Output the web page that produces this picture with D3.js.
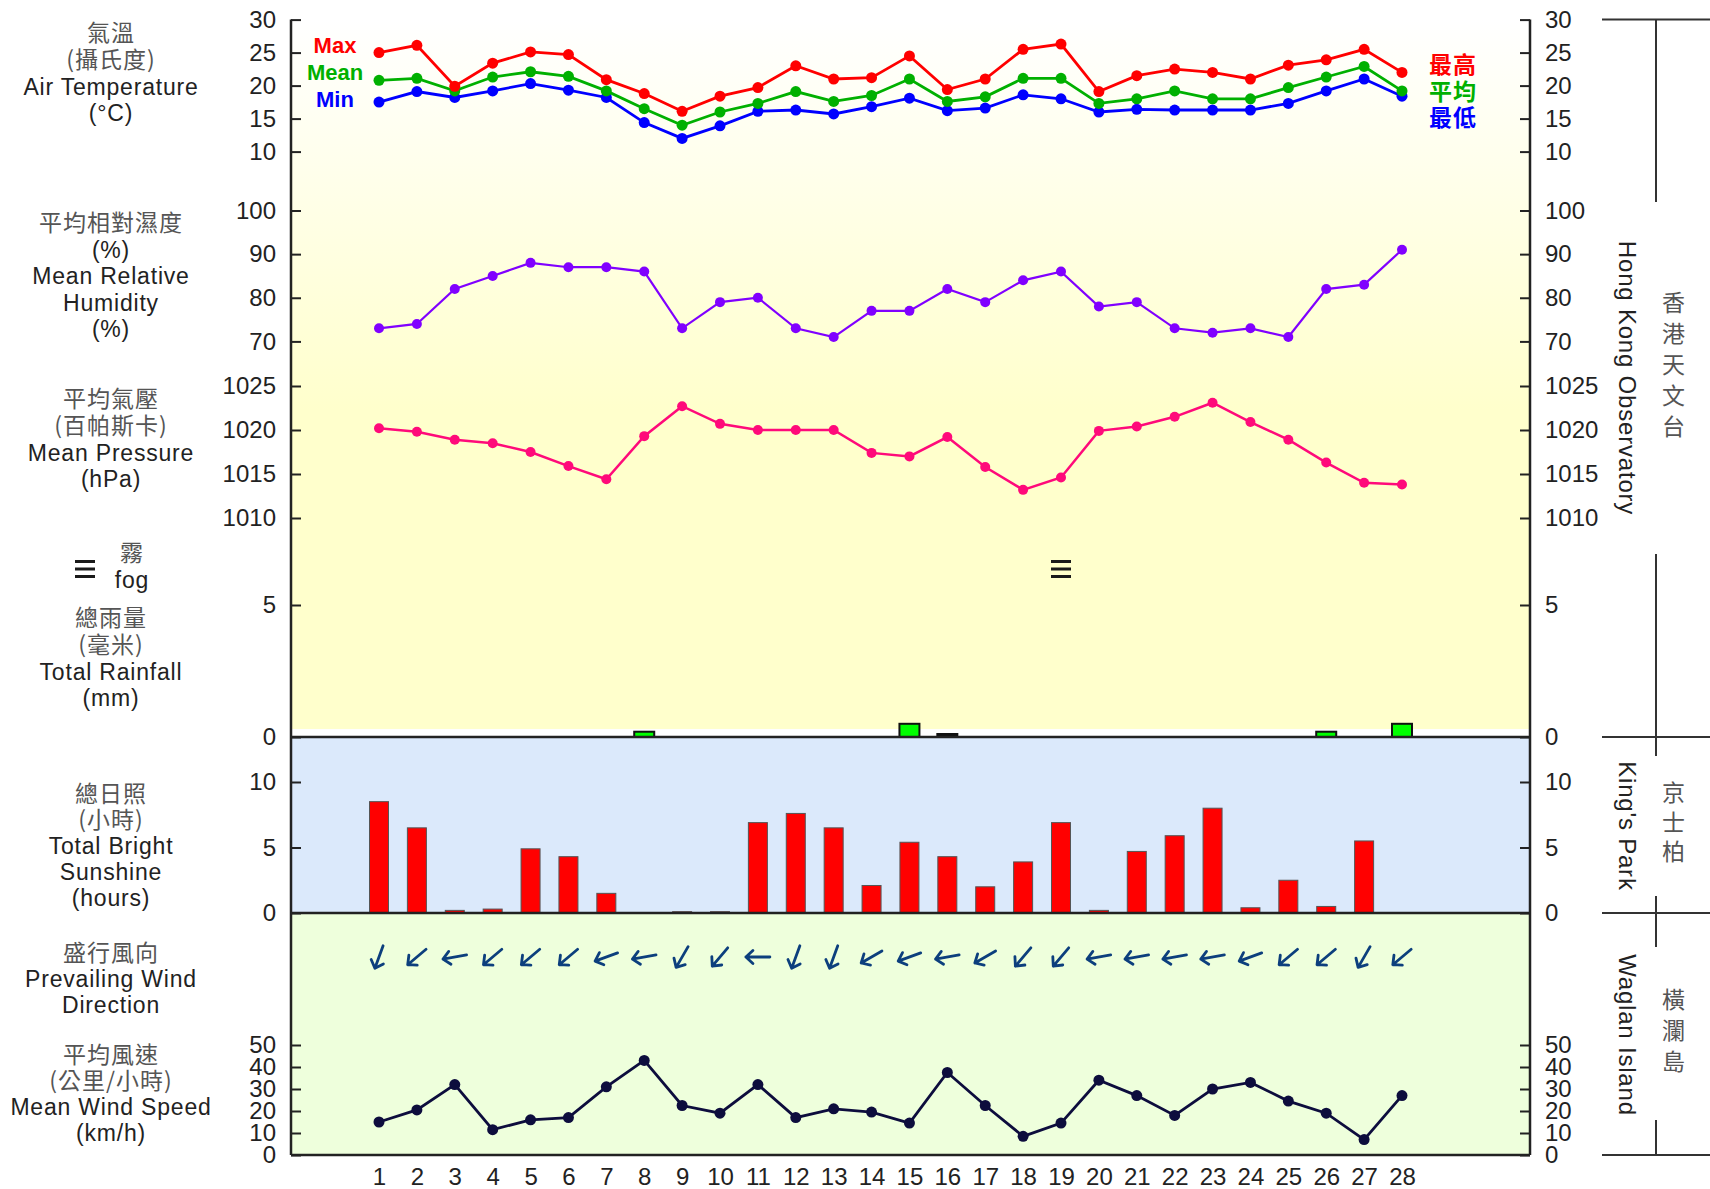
<!DOCTYPE html>
<html>
<head>
<meta charset="utf-8">
<script src="https://cdn.jsdelivr.net/npm/d3@7"></script>
<style>
  body { margin: 0; background: #fff; }
  text { font-family: "Liberation Sans", Arial, sans-serif; font-size: 24px; fill: #222; }
  .lbl { font-size: 23px; letter-spacing: 0.8px; }
  .stn { letter-spacing: 0.8px; }
  .cjk { font-family: "Noto Sans CJK TC", sans-serif; fill: #555; font-size: 23px; letter-spacing: 1px; }
</style>
</head>
<body>
<div id="chart"></div>
<script>
// Data (day of month, one value per day)
var days = [1,2,3,4,5,6,7,8,9,10,11,12,13,14,15,16,17,18,19,20,21,22,23,24,25,26,27,28];
var maxTemp  = [25.0,26.1,19.9,23.4,25.1,24.7,20.9,18.8,16.1,18.4,19.7,23.0,21.0,21.2,24.5,19.4,21.0,25.5,26.3,19.1,21.5,22.5,22.0,21.0,23.1,23.9,25.5,22.0];
var meanTemp = [20.8,21.1,19.2,21.3,22.1,21.4,19.2,16.5,14.0,16.0,17.3,19.1,17.6,18.5,21.0,17.6,18.3,21.1,21.1,17.3,18.0,19.2,18.0,18.0,19.7,21.3,22.9,19.2];
var minTemp  = [17.5,19.1,18.2,19.2,20.3,19.3,18.2,14.4,12.0,13.9,16.1,16.3,15.7,16.8,18.1,16.2,16.6,18.6,18.0,16.0,16.4,16.3,16.3,16.3,17.3,19.2,21.0,18.4];
var humidity = [73,74,82,85,88,87,87,86,73,79,80,73,71,77,77,82,79,84,86,78,79,73,72,73,71,82,83,91];
var pressure = [1020.2,1019.8,1018.9,1018.5,1017.5,1015.9,1014.4,1019.3,1022.7,1020.7,1020.0,1020.0,1020.0,1017.4,1017.0,1019.2,1015.8,1013.2,1014.6,1019.9,1020.4,1021.5,1023.1,1020.9,1018.9,1016.3,1014.0,1013.8];
var rainfall = [0,0,0,0,0,0,0,0.2,0,0,0,0,0,0,0.5,0,0,0,0,0,0,0,0,0,0,0.2,0,0.5];
var rainTraceDays = [16];
var fogDays = [19];
var sunshine = [8.5,6.5,0.2,0.3,4.9,4.3,1.5,0,0.1,0.1,6.9,7.6,6.5,2.1,5.4,4.3,2.0,3.9,6.9,0.2,4.7,5.9,8.0,0.4,2.5,0.5,5.5,0];
var windDir = [20,50,80,50,50,50,70,80,30,40,90,20,20,60,70,80,60,40,40,80,80,80,80,70,50,50,30,50];   // degrees, wind from
var windSpeed = [15,20.5,32,11.5,16,17,31,43,22.5,19,32,17,21,19.5,14.5,37.5,22.5,8.5,14.5,34,27,18,30,33,24.5,19,7,27];

var tempTicks = [10,15,20,25,30];
var rhTicks = [70,80,90,100];
var presTicks = [1010,1015,1020,1025];
var rainTicks = [0,5];
var sunTicks = [0,5,10];
var windTicks = [0,10,20,30,40,50];

// Base chart space
var width = 1710, height = 1189;
var axisL = 291, axisR = 1530, plotTop = 19.6, plotBottom = 1155;

var svg = d3.select('#chart').append('svg')
    .attr('width', width)
    .attr('height', height);

// Scales
var x = d3.scaleLinear().domain([1, 28]).range([379, 1402]);
var tempY = d3.scaleLinear().domain([10, 30]).range([151.6, 19.6]);
var rhY = d3.scaleLinear().domain([70, 100]).range([341.4, 210.5]);
var presY = d3.scaleLinear().domain([1010, 1025]).range([518, 386]);
var rainY = d3.scaleLinear().domain([0, 5]).range([737, 605]);
var sunY = d3.scaleLinear().domain([0, 10]).range([913, 782]);
var windY = d3.scaleLinear().domain([0, 50]).range([1155, 1045]);

// Panel backgrounds
var grad = svg.append('defs').append('linearGradient')
    .attr('id', 'sky').attr('x1', 0).attr('y1', 0).attr('x2', 0).attr('y2', 1);
grad.append('stop').attr('offset', 0).attr('stop-color', '#ffffff');
grad.append('stop').attr('offset', 0.55).attr('stop-color', '#ffffcc');
grad.append('stop').attr('offset', 1).attr('stop-color', '#ffffcc');

svg.append('rect').attr('x', axisL).attr('y', plotTop)
    .attr('width', axisR - axisL).attr('height', 729 - plotTop).style('fill', 'url(#sky)');
svg.append('rect').attr('x', axisL).attr('y', rainY(0))
    .attr('width', axisR - axisL).attr('height', sunY(0) - rainY(0))
    .style('fill', '#dbe9fb');
svg.append('rect').attr('x', axisL).attr('y', sunY(0))
    .attr('width', axisR - axisL).attr('height', plotBottom - sunY(0)).style('fill', '#eeffdc');

// Y axes, left and right
function styleAxis(g) {
    g.select('.domain').remove();
    g.selectAll('line').attr('stroke', '#222').attr('stroke-width', 2);
    g.selectAll('text').attr('font-size', null).attr('font-family', null);
}
function yAxes(scale, ticks) {
    svg.append('g')
        .attr('transform', 'translate(' + axisL + ',0)')
        .call(d3.axisLeft(scale).tickValues(ticks).tickFormat(d3.format('d'))
            .tickSizeInner(-10).tickSizeOuter(0).tickPadding(15))
        .call(styleAxis);
    svg.append('g')
        .attr('transform', 'translate(' + axisR + ',0)')
        .call(d3.axisRight(scale).tickValues(ticks).tickFormat(d3.format('d'))
            .tickSizeInner(-10).tickSizeOuter(0).tickPadding(15))
        .call(styleAxis);
}
yAxes(tempY, tempTicks);
yAxes(rhY, rhTicks);
yAxes(presY, presTicks);
yAxes(rainY, rainTicks);
yAxes(sunY, sunTicks);
yAxes(windY, windTicks);

// X axis (days)
svg.append('g')
    .attr('transform', 'translate(0,' + plotBottom + ')')
    .call(d3.axisBottom(x).tickValues(days).tickSize(0).tickPadding(13).tickFormat(d3.format('d')))
    .call(styleAxis);

// Rainfall bars
svg.selectAll('.rain')
    .data(days.filter(function(d, i) { return rainfall[i] > 0; }))
    .enter().append('rect')
    .attr('class', 'rain')
    .attr('x', function(d) { return x(d) - 10; })
    .attr('y', function(d) { return rainY(rainfall[d - 1]); })
    .attr('width', 20)
    .attr('height', function(d) { return rainY(0) - rainY(rainfall[d - 1]); })
    .style('fill', '#00ff00').style('stroke', '#111').style('stroke-width', 2);
svg.selectAll('.trace')
    .data(rainTraceDays)
    .enter().append('rect')
    .attr('x', function(d) { return x(d) - 11; })
    .attr('y', rainY(0) - 4)
    .attr('width', 22).attr('height', 4)
    .style('fill', '#111');

// Sunshine bars
svg.selectAll('.sun')
    .data(days.filter(function(d, i) { return sunshine[i] > 0; }))
    .enter().append('rect')
    .attr('class', 'sun')
    .attr('x', function(d) { return x(d) - 9.5; })
    .attr('y', function(d) { return sunY(sunshine[d - 1]); })
    .attr('width', 19)
    .attr('height', function(d) { return sunY(0) - sunY(sunshine[d - 1]); })
    .style('fill', '#ff0000').style('stroke', '#555').style('stroke-width', 1);

// Panel separators and axis lines
[rainY(0), sunY(0), plotBottom].forEach(function(yy) {
    svg.append('line').attr('x1', axisL).attr('x2', axisR).attr('y1', yy).attr('y2', yy)
        .style('stroke', '#222').style('stroke-width', 2.5);
});
[axisL, axisR].forEach(function(xx) {
    svg.append('line').attr('x1', xx).attr('x2', xx).attr('y1', plotTop).attr('y2', plotBottom)
        .style('stroke', '#222').style('stroke-width', 2.5);
});

// Line series
function series(values, scale, color, r, w) {
    var line = d3.line()
        .x(function(d, i) { return x(days[i]); })
        .y(function(d) { return scale(d); });
    svg.append('path').datum(values)
        .attr('d', line)
        .style('fill', 'none').style('stroke', color).style('stroke-width', w);
    svg.append('g').selectAll('circle')
        .data(values).enter().append('circle')
        .attr('cx', function(d, i) { return x(days[i]); })
        .attr('cy', function(d) { return scale(d); })
        .attr('r', r)
        .style('fill', color);
}
series(minTemp, tempY, '#0000ff', 5.5, 2.8);
series(meanTemp, tempY, '#00b000', 5.5, 2.8);
series(maxTemp, tempY, '#ff0000', 5.5, 2.8);
series(humidity, rhY, '#8000ff', 5, 2.2);
series(pressure, presY, '#ff0a7a', 5, 2.5);
series(windSpeed, windY, '#0d0d3d', 5.5, 2.8);

// Fog symbol
function fog(cx, cy) {
    [-7.5, 0, 7.5].forEach(function(o) {
        svg.append('line').attr('x1', cx - 10).attr('x2', cx + 10)
            .attr('y1', cy + o).attr('y2', cy + o)
            .style('stroke', '#1a1a1a').style('stroke-width', 3);
    });
}
fogDays.forEach(function(d) { fog(x(d), 569); });
fog(85, 569);

// Prevailing wind direction arrows
svg.append('g').selectAll('path')
    .data(days).enter().append('path')
    .attr('transform', function(d, i) {
        return 'translate(' + x(d) + ',957) rotate(' + (windDir[i] + 90) + ')';
    })
    .attr('d', 'M-12,0L12,0M5,-6.5L12,0L5,6.5')
    .style('fill', 'none').style('stroke', '#0c3f7d').style('stroke-width', 2.8)
    .style('stroke-linecap', 'round').style('stroke-linejoin', 'round');

// Left side titles
function block(lines, cx, y0, step) {
    lines.forEach(function(t, i) {
        svg.append('text')
            .attr('class', /[\u3400-\u9fff]/.test(t) ? 'cjk' : 'lbl')
            .attr('x', cx).attr('y', y0 + i * step).attr('dy', '0.36em')
            .attr('text-anchor', 'middle')
            .text(t);
    });
}
block(['氣溫', '(攝氏度)', 'Air Temperature', '(°C)'], 111, 33, 26.7);
block(['平均相對濕度', '(%)', 'Mean Relative', 'Humidity', '(%)'], 111, 223, 26.5);
block(['平均氣壓', '(百帕斯卡)', 'Mean Pressure', '(hPa)'], 111, 399, 26.7);
block(['霧', 'fog'], 132, 553, 27);
block(['總雨量', '(毫米)', 'Total Rainfall', '(mm)'], 111, 618, 26.7);
block(['總日照', '(小時)', 'Total Bright', 'Sunshine', '(hours)'], 111, 794, 26);
block(['盛行風向', 'Prevailing Wind', 'Direction'], 111, 953, 26);
block(['平均風速', '(公里/小時)', 'Mean Wind Speed', '(km/h)'], 111, 1055, 26);

// Temperature legends
var legend = [['Max', '最高', '#ff0000'], ['Mean', '平均', '#00b000'], ['Min', '最低', '#0000ff']];
legend.forEach(function(l, i) {
    svg.append('text').attr('x', 335).attr('y', 45 + i * 27).attr('dy', '0.36em')
        .attr('text-anchor', 'middle')
        .style('font-weight', 'bold').style('font-size', '22px').style('fill', l[2])
        .text(l[0]);
    svg.append('text').attr('class', 'cjk').attr('x', 1453).attr('y', 65 + i * 26.5).attr('dy', '0.36em')
        .attr('text-anchor', 'middle')
        .style('font-weight', 'bold').style('font-size', '23px').style('fill', l[2])
        .text(l[1]);
});

// Station brackets on the right
var bx = 1656;
[[plotTop, 202], [554, 756], [896, 947], [1120, plotBottom]].forEach(function(s) {
    svg.append('line').attr('x1', bx).attr('x2', bx).attr('y1', s[0]).attr('y2', s[1])
        .style('stroke', '#333').style('stroke-width', 2);
});
[plotTop, rainY(0), sunY(0), plotBottom].forEach(function(yy) {
    svg.append('line').attr('x1', 1602).attr('x2', 1710).attr('y1', yy).attr('y2', yy)
        .style('stroke', '#333').style('stroke-width', 2);
});

var stations = [['Hong Kong Observatory', '香港天文台', 378, 303, 31],
                ["King's Park", '京士柏', 826, 793, 29.5],
                ['Waglan Island', '橫瀾島', 1035, 1000, 31]];
stations.forEach(function(s) {
    svg.append('text').attr('class', 'stn')
        .attr('transform', 'translate(1628,' + s[2] + ') rotate(90)')
        .attr('text-anchor', 'middle').attr('dy', '0.36em')
        .text(s[0]);
    s[1].split('').forEach(function(c, i) {
        svg.append('text').attr('class', 'cjk')
            .attr('x', 1674).attr('y', s[3] + i * s[4]).attr('dy', '0.36em')
            .attr('text-anchor', 'middle')
            .text(c);
    });
});
</script>
</body>
</html>
